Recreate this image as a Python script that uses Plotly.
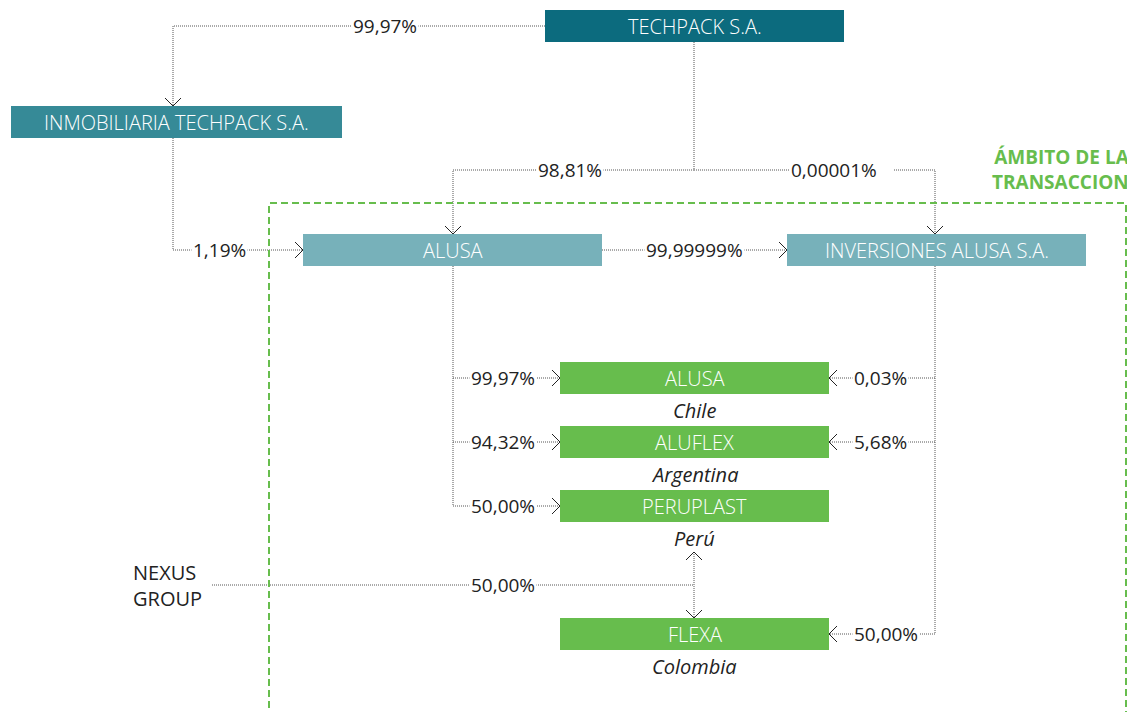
import plotly.graph_objects as go

# ---- data ----
entidades = ["TECHPACK S.A.", "INMOBILIARIA TECHPACK S.A.", "ALUSA", "INVERSIONES ALUSA S.A.",
             "ALUSA", "ALUFLEX", "PERUPLAST", "FLEXA"]
paises = ["", "", "", "", "Chile", "Argentina", "Perú", "Colombia"]
participaciones = ["99,97%", "98,81%", "0,00001%", "1,19%", "99,99999%",
                   "99,97%", "94,32%", "50,00%",
                   "0,03%", "5,68%", "50,00%",
                   "50,00%"]
socio_externo = "NEXUS<br>GROUP"
ambito = "ÁMBITO DE LA<br>TRANSACCION"

# ---- layout of the diagram (pixel space) ----
box_x0 = [545, 11, 303, 787, 560, 560, 560, 560]
box_x1 = [844, 342, 602, 1086, 829, 829, 829, 829]
box_yc = [26, 122, 250, 250, 378, 442, 506, 634]
box_h = 32
box_col = ["#0c6b7e", "#368a97", "#77b1ba", "#77b1ba",
           "#67bd4d", "#67bd4d", "#67bd4d", "#67bd4d"]

# connector routes: (points, arrow direction at last point or None)
rutas = [
    ([(545, 26), (173, 26), (173, 106)], "down"),
    ([(694, 42), (694, 170)], None),
    ([(694, 170), (453, 170), (453, 234)], "down"),
    ([(694, 170), (935, 170), (935, 234)], "down"),
    ([(173, 138), (173, 250), (303, 250)], "right"),
    ([(602, 250), (787, 250)], "right"),
    ([(453, 266), (453, 506)], None),
    ([(453, 378), (560, 378)], "right"),
    ([(453, 442), (560, 442)], "right"),
    ([(453, 506), (560, 506)], "right"),
    ([(935, 266), (935, 634)], None),
    ([(935, 378), (829, 378)], "left"),
    ([(935, 442), (829, 442)], "left"),
    ([(935, 634), (829, 634)], "left"),
    ([(212, 585), (694, 585)], None),
    ([(694, 552), (694, 618)], "down"),
]
flecha_extra = [((694, 552), "up")]

# label positions for participaciones: (x, y, xanchor)
lbl_pos = [(385, 26, "center"), (570, 170, "center"), (789, 170, "left"),
           (219, 250, "center"), (694, 250, "center"),
           (469, 378, "left"), (469, 442, "left"), (469, 506, "left"),
           (852, 378, "left"), (852, 442, "left"), (852, 634, "left"),
           (469, 585, "left")]

FONT = "Open Sans"
fig = go.Figure()


def chevron(x, y, d, s=8):
    if d == "down":
        return [x - s, x, x + s], [y - s, y, y - s]
    if d == "up":
        return [x - s, x, x + s], [y + s, y, y + s]
    if d == "right":
        return [x - s, x, x - s], [y - s, y, y + s]
    return [x + s, x, x + s], [y - s, y, y + s]


for pts, d in rutas:
    fig.add_trace(go.Scatter(x=[p[0] for p in pts], y=[p[1] for p in pts], mode="lines",
                             line=dict(color="#555555", width=1, dash="1px,1px"),
                             hoverinfo="skip", showlegend=False))
    if d:
        cx, cy = chevron(pts[-1][0], pts[-1][1], d)
        fig.add_trace(go.Scatter(x=cx, y=cy, mode="lines", line=dict(color="#222222", width=1),
                                 hoverinfo="skip", showlegend=False))
for (px, py), d in flecha_extra:
    cx, cy = chevron(px, py, d)
    fig.add_trace(go.Scatter(x=cx, y=cy, mode="lines", line=dict(color="#222222", width=1),
                             hoverinfo="skip", showlegend=False))

shapes = []
annotations = []
for i, name in enumerate(entidades):
    shapes.append(dict(type="rect", xref="x", yref="y", x0=box_x0[i], x1=box_x1[i],
                       y0=box_yc[i] - box_h / 2, y1=box_yc[i] + box_h / 2,
                       fillcolor=box_col[i], line=dict(width=0), layer="above"))
    annotations.append(dict(x=(box_x0[i] + box_x1[i]) / 2, y=box_yc[i], text=name,
                            showarrow=False,
                            font=dict(family=FONT, size=20, color="white", weight=350)))
    if paises[i]:
        annotations.append(dict(x=(box_x0[i] + box_x1[i]) / 2, y=box_yc[i] + 32, text=paises[i],
                                showarrow=False,
                                font=dict(family=FONT, size=20, color="#222222",
                                          style="italic", weight=400)))

# transaction scope (dashed green frame)
shapes.append(dict(type="path", xref="x", yref="y",
                   path="M 269 730 L 269 203 L 1126 203 L 1126 730",
                   line=dict(color="#67bd4d", width=2, dash="7px,4px"), layer="above"))

for txt, (lx, ly, anc) in zip(participaciones, lbl_pos):
    if anc == "left" and lx == 789:
        txt = txt + "&nbsp;&nbsp;&nbsp;"
    annotations.append(dict(x=lx, y=ly, text=txt, showarrow=False, xanchor=anc,
                            bgcolor="white", borderpad=1,
                            font=dict(family=FONT, size=19, color="#222222")))

annotations.append(dict(x=131, y=585, text=socio_externo, showarrow=False, xanchor="left",
                        align="left", font=dict(family=FONT, size=20, color="#222222")))
annotations.append(dict(x=1132, y=169, text="<b>" + ambito.replace("<br>", "</b><br><b>") + "</b>",
                        showarrow=False, xanchor="right", align="right",
                        font=dict(family=FONT, size=19, color="#67bd4d")))

# page body has an 8px margin; shift the axes so pixel coordinates line up
fig.update_layout(
    width=1127, height=704,
    margin=dict(l=0, r=0, t=0, b=0),
    paper_bgcolor="white", plot_bgcolor="white",
    xaxis=dict(range=[8, 1135], visible=False, fixedrange=True),
    yaxis=dict(range=[712, 8], visible=False, fixedrange=True),
    shapes=shapes, annotations=annotations,
    showlegend=False,
)

fig.write_html("out.html")
